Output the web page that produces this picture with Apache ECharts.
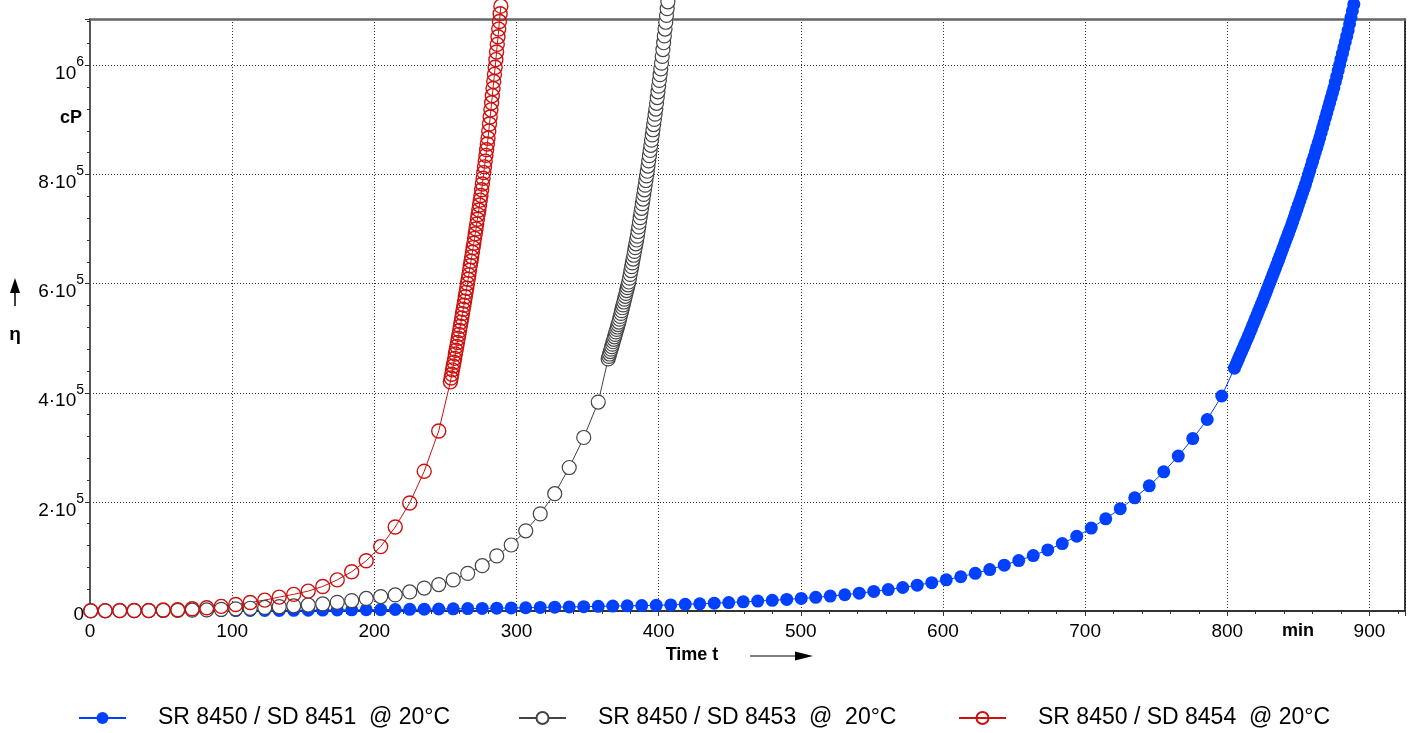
<!DOCTYPE html>
<html>
<head>
<meta charset="utf-8">
<script src="https://cdn.jsdelivr.net/npm/echarts@6/dist/echarts.min.js"></script>
<style>
html,body{margin:0;padding:0;background:#fff;}
#chart{width:1415px;height:733px;}
</style>
</head>
<body>
<div id="chart"></div>
<script>
// ---- Data (time in min, viscosity in cP) ----
const seriesNames = ['SR 8450 / SD 8451  @ 20°C', 'SR 8450 / SD 8453  @  20°C', 'SR 8450 / SD 8454  @ 20°C'];

// measuring times of the sparse (10-min) phase
const sampleTimes = [0.5,10.7,20.9,31.1,41.3,51.5,61.7,71.9,82.1,92.3,102.5,112.7,122.9,133.1,143.3,153.5,163.7,173.9,184.1,194.3,
  204.5,214.7,224.9,235.1,245.3,255.5,265.7,275.9,286.1,296.3,306.5,316.7,326.9,337.1,347.3,357.5,367.7,377.9,388.1,398.3,
  408.5,418.7,428.9,439.1,449.3,459.5,469.7,479.9,490.1,500.3,510.5,520.7,530.9,541.1,551.3,561.5,571.7,581.9,592.1,602.3,
  612.5,622.7,632.9,643.1,653.3,663.5,673.7,683.9,694.1,704.3,714.5,724.7,734.9,745.1,755.3,765.5,775.7,785.9,796.1];

const blueSparse = [0,100,150,200,250,300,400,500,600,700,800,900,1000,1100,1300,1500,1700,1900,2100,2300,
  2500,2800,3100,3400,3700,4000,4400,4800,5200,5600,6000,6500,7000,7500,8000,8500,9000,9500,10000,
  10400,11200,12200,13200,14300,15500,16800,18200,19600,21200,23000,25000,27300,29800,32600,35800,39300,43100,47300,52000,
  57200,62800,69000,76000,84000,92500,101500,112000,123500,137000,152000,169000,187500,207500,229500,255000,284000,316000,351000,394000];

const graySparse = [300,400,500,600,700,900,1100,1500,2000,3000,4000,5000,6500,8000,9500,11000,13000,15900,19000,23000,
  26500,29500,35000,42000,48500,57000,69000,83000,101000,121000,147000,178000,215000,263000,318000,383000];

const redSparse = [600,700,800,900,1000,1800,2400,4000,6000,8500,12000,15500,20000,25500,30500,36500,45000,57000,72000,92000,
  118000,154000,198000,256000,330000];

// dense phase
const blueDenseTimes = [805,806,807,808,809,810,811,812,813,814,815,816,817,818,819,820,821,822,823,824,825,826,827,828,829,830,
  831,832,833,834,835,836,837,838,839,840,841,842,843,844,845,846,847,848,849,850,851,852,853,854,855,856,857,858,859,860,
  861,862,863,864,865,866,867,868,869,870,871,872,873,874,875,876,877,878,879,880,881,882,883,884,885,886,887,888,889];
const blueDense = [445000,451000,457000,463000,469000,475000,481000,487000,493000,499000,505000,
  511400,517800,524200,530600,537000,543400,549800,556200,562600,569000,
  575700,582400,589100,595800,602500,609200,615900,622600,629300,636000,
  643000,650000,657000,664000,671000,678000,685000,692000,699000,706000,
  713600,721200,728800,736400,744000,751600,759200,766800,774400,782000,
  790500,799000,807500,816000,824500,833000,841500,850000,858500,867000,
  876200,885400,894600,903800,913000,922200,931400,940600,949800,959000,
  969500,980000,990500,1001000,1011500,1022000,1032500,1043000,1053500,1064000,
  1076000,1088000,1100000,1112000];

const grayDenseTimes = [364.5,365,365.5,366,366.5,367,367.5,368,368.5,369,369.5,370,370.5,371,371.5,372,
  372.5,373,373.5,374,374.5,375,375.5,376,376.5,377,377.5,378,378.5,379,
  379.5,380,380.5,381,381.5,382,382.5,383,383.5,384,384.5,385,
  385.5,386,386.5,387,387.5,388,388.5,389,389.5,390,390.5,391,391.5,392,
  392.5,393,393.5,394,394.5,395,395.5,396,396.5,397,397.5,398,
  398.5,399,399.5,400,400.5,401,401.5,402,
  402.5,403,403.5,404,404.5,405,405.5,406,406.5];
const grayDense = [462000,466500,471000,475500,480000,484500,489000,493500,498000,502500,507000,511500,516000,520500,525000,529500,
  534800,540000,545300,550500,555800,561000,566300,571500,576800,582000,587300,592500,597800,603000,
  610000,617000,624000,631000,638000,645000,652000,659000,666000,673000,680000,687000,
  695500,704000,712500,721000,729500,738000,746500,755000,763500,772000,780500,789000,797500,806000,
  815500,825000,834500,844000,853500,863000,872500,882000,891500,901000,910500,920000,
  930500,941000,951500,962000,972500,983000,993500,1004000,
  1016500,1029000,1041500,1054000,1066500,1079000,1091500,1104000,1116500];

const redDenseTimes = [253.5,254,254.5,255,255.5,256,256.5,257,257.5,258,258.5,259,259.5,260,260.5,261,261.5,262,262.5,263,
  263.5,264,264.5,265,265.5,266,266.5,267,267.5,268,268.5,269,269.5,270,270.5,271,271.5,272,272.5,273,273.5,274,274.5,275,
  275.5,276,276.5,277,277.5,278,278.5,279,279.5,280,280.5,281,281.5,282,282.5,283,283.5,284,284.5,285,285.5,286,286.5,287,
  287.5,288,288.5,289];
const redDense = [420000,427000,434000,442000,449000,456000,463000,471000,478000,485000,492000,500000,507000,514000,
  522000,529500,537000,545000,553000,560500,568000,576000,584000,591500,
  600000,608000,616000,624500,633000,641000,649000,657500,666000,674000,
  683000,691500,700000,709000,718000,726500,735000,744000,753000,761500,
  772000,782500,793000,803500,814000,824500,835000,845500,856000,866500,
  879500,892500,905500,918500,931500,944500,957500,970500,983500,996500,
  1010500,1024500,1038500,1052500,1066500,1080500,1094500,1108500];

// axis ticks
const xTickValues = [0,100,200,300,400,500,600,700,800,900];
const yTickLabels = [['0',''],['2·10','5'],['4·10','5'],['6·10','5'],['8·10','5'],['10','6']];

function pairs(times, vals) { return times.map((t, i) => [t, vals[i]]); }
const blueData = pairs(sampleTimes.slice(0, blueSparse.length), blueSparse).concat(pairs(blueDenseTimes, blueDense));
const grayData = pairs(sampleTimes.slice(0, graySparse.length), graySparse).concat(pairs(grayDenseTimes, grayDense));
const redData = pairs(sampleTimes.slice(0, redSparse.length), redSparse).concat(pairs(redDenseTimes, redDense));

const FONT = '"Liberation Sans", Arial, sans-serif';
const BLUE = '#0040ff', GRAY = '#444444', RED = '#cc1111';

const chart = echarts.init(document.getElementById('chart'), null, {renderer: 'canvas'});

const legendCommon = {
  top: 705, padding: 0, itemWidth: 47, itemHeight: 15, itemGap: 0,
  textStyle: {fontFamily: FONT, fontSize: 23, color: '#000', lineHeight: 26, padding: [0, 0, 0, 27]},
  selectedMode: false
};

chart.setOption({
  animation: false,
  backgroundColor: '#fff',
  textStyle: {fontFamily: FONT},
  grid: {left: 90, right: 10, top: 19, bottom: 122, containLabel: false},
  legend: [
    Object.assign({}, legendCommon, {left: 78, data: [seriesNames[0]]}),
    Object.assign({}, legendCommon, {left: 518, data: [seriesNames[1]]}),
    Object.assign({}, legendCommon, {left: 958, data: [seriesNames[2]]})
  ],
  xAxis: [{
    type: 'value', min: 0, max: 925, interval: 100, position: 'bottom',
    axisLine: {show: true, onZero: false, lineStyle: {color: '#333', width: 2}},
    axisTick: {show: true, length: 5, lineStyle: {color: '#333', width: 1}},
    minorTick: {show: true, splitNumber: 5, length: 3, lineStyle: {color: '#333', width: 1}},
    axisLabel: {fontSize: 19, color: '#000', margin: 11, fontFamily: FONT, showMaxLabel: false,
      formatter: v => xTickValues.indexOf(v) >= 0 ? String(v) : ''},
    splitLine: {show: true, lineStyle: {type: [1, 2], color: '#333', width: 1}}
  }, {
    type: 'value', min: 0, max: 925, position: 'top',
    axisLine: {show: true, onZero: false, lineStyle: {color: '#666', width: 2.5}},
    axisTick: {show: false}, axisLabel: {show: false}, splitLine: {show: false}
  }],
  yAxis: [{
    type: 'value', min: 0, max: 1085000, interval: 200000, position: 'left',
    axisLine: {show: true, onZero: false, lineStyle: {color: '#555', width: 2}},
    axisTick: {show: true, length: 5, lineStyle: {color: '#333', width: 1}},
    minorTick: {show: true, splitNumber: 5, length: 3, lineStyle: {color: '#333', width: 1}},
    axisLabel: {
      fontSize: 19, color: '#000', margin: 6, fontFamily: FONT, showMaxLabel: false,
      padding: [8, 0, 0, 0],
      formatter: function (v) {
        const lab = yTickLabels[Math.round(v / 200000)];
        if (!lab || Math.abs(v / 200000 - Math.round(v / 200000)) > 1e-6) return '';
        if (!lab[1]) return lab[0];
        return '{b|' + lab[0] + '}{s|' + lab[1] + '}';
      },
      rich: {
        b: {fontSize: 19, color: '#000', fontFamily: FONT, lineHeight: 28, verticalAlign: 'bottom'},
        s: {fontSize: 14, color: '#000', fontFamily: FONT, lineHeight: 14, verticalAlign: 'top'}
      }
    },
    splitLine: {show: true, lineStyle: {type: [1, 2], color: '#333', width: 1}}
  }, {
    type: 'value', min: 0, max: 1085000, position: 'right',
    axisLine: {show: true, onZero: false, lineStyle: {color: '#000', width: 1.5}},
    axisTick: {show: false}, axisLabel: {show: false}, splitLine: {show: false}
  }],
  series: [{
    name: seriesNames[0], type: 'line', data: blueData, clip: false,
    symbol: 'circle', symbolSize: 13, showAllSymbol: true,
    itemStyle: {color: BLUE, borderWidth: 0},
    lineStyle: {color: BLUE, width: 1}
  }, {
    name: seriesNames[1], type: 'line', data: grayData, clip: false,
    symbol: 'circle', symbolSize: 14, showAllSymbol: true,
    itemStyle: {color: '#ffffff', borderColor: GRAY, borderWidth: 1.2},
    lineStyle: {color: GRAY, width: 1}
  }, {
    name: seriesNames[2], type: 'line', data: redData, clip: false,
    symbol: 'circle', symbolSize: 14, showAllSymbol: true,
    itemStyle: {color: 'rgba(255,255,255,0)', borderColor: RED, borderWidth: 1.4},
    lineStyle: {color: RED, width: 1}
  }],
  graphic: [
    {type: 'text', x: 71, y: 118, style: {text: 'cP', font: 'bold 18px ' + FONT, fill: '#000', align: 'center', verticalAlign: 'middle'}},
    {type: 'polygon', shape: {points: [[15, 278], [10, 293], [20, 293]]}, style: {fill: '#000'}},
    {type: 'line', shape: {x1: 15, y1: 292, x2: 15, y2: 306}, style: {stroke: '#000', lineWidth: 1.5}},
    {type: 'text', x: 15, y: 335, style: {text: 'η', font: 'bold 19px ' + FONT, fill: '#000', align: 'center', verticalAlign: 'middle'}},
    {type: 'text', x: 692, y: 655, style: {text: 'Time t', font: 'bold 18px ' + FONT, fill: '#000', align: 'center', verticalAlign: 'middle'}},
    {type: 'line', shape: {x1: 750, y1: 656, x2: 797, y2: 656}, style: {stroke: '#000', lineWidth: 1.2}},
    {type: 'polygon', shape: {points: [[813, 656], [795, 651.5], [795, 660.5]]}, style: {fill: '#000'}},
    {type: 'text', x: 1298, y: 631, style: {text: 'min', font: 'bold 18px ' + FONT, fill: '#000', align: 'center', verticalAlign: 'middle'}}
  ]
});
</script>
</body>
</html>
